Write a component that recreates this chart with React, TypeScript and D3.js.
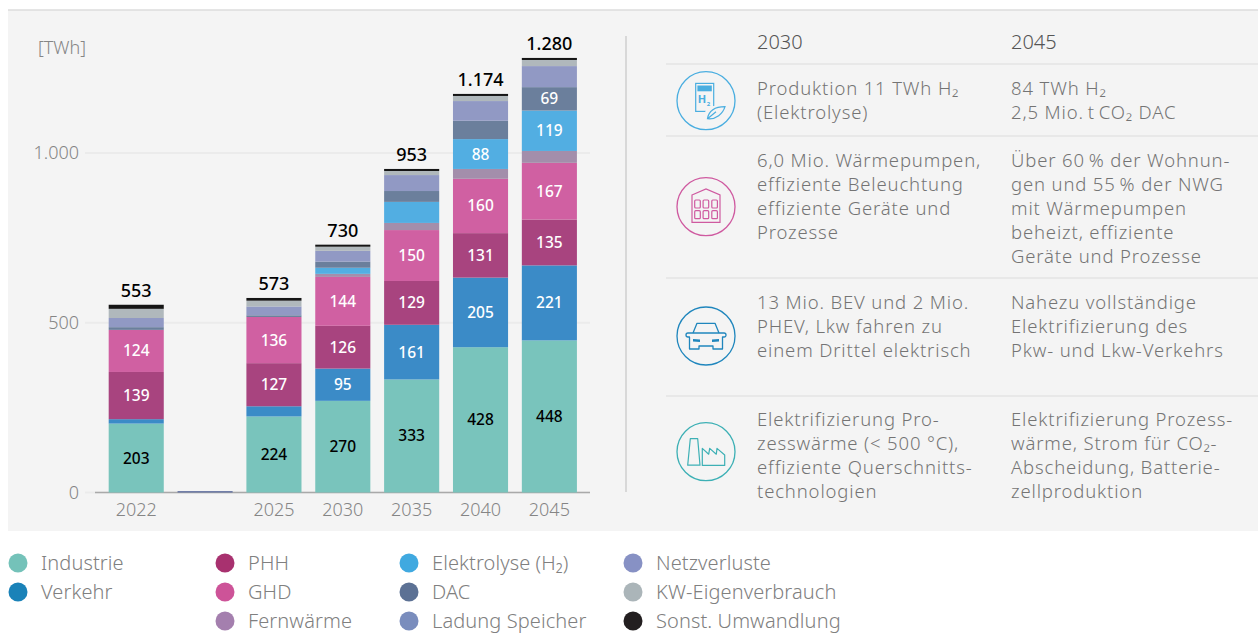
import React from 'react';
import * as d3 from 'd3';

const years = ['2022', '', '2025', '2030', '2035', '2040', '2045'];
const industrie = [203, 0, 224, 270, 333, 428, 448];
const verkehr = [13, 0, 30, 95, 161, 205, 221];
const phh = [139, 0, 127, 126, 129, 131, 135];
const ghd = [124, 0, 136, 144, 150, 160, 167];
const fernwaerme = [0, 0, 0, 9, 21, 29, 35];
const elektrolyse = [0, 0, 0, 18, 62, 88, 119];
const dac = [8, 0, 5, 18, 32, 54, 69];
const ladung = [0, 4, 0, 0, 0, 0, 0];
const netz = [27, 0, 26, 32, 47, 58, 62];
const kw = [27, 0, 17, 12, 12, 15, 18];
const sonst = [12, 0, 8, 6, 6, 6, 6];
const totals = ['553', '', '573', '730', '953', '1.174', '1.280'];

const seriesNames = ['Industrie', 'Verkehr', 'PHH', 'GHD', 'Fernwärme', 'Elektrolyse (H₂)', 'DAC', 'Ladung Speicher', 'Netzverluste', 'KW-Eigenverbrauch', 'Sonst. Umwandlung'];
const seriesValues = [industrie, verkehr, phh, ghd, fernwaerme, elektrolyse, dac, ladung, netz, kw, sonst];
const barColors = ['#79c4bc', '#3b8bc7', '#a8447f', '#d060a2', '#a38eab', '#52aee2', '#6b7f9c', '#5f6f9f', '#9199c4', '#b0b8bc', '#151515'];
const legendColors = ['#74c2b9', '#1a82b8', '#a8316f', '#cd5398', '#a47fae', '#40a9e0', '#5c7194', '#7a8dbd', '#8791c4', '#abb5b9', '#231f20'];
const legendCols = [[0, 1], [2, 3, 4], [5, 6, 7], [8, 9, 10]];
const legendX = [18, 225, 409, 633];
const legendY = [563, 592, 621];

const yTicks = [0, 500, 1000];
const header = ['2030', '2045'];
const rows = [
  { col1: ['Produktion 11 TWh H₂', '(Elektrolyse)'], col2: ['84 TWh H₂', '2,5 Mio.\u2009t\u2009CO₂ DAC'], y: 95 },
  { col1: ['6,0 Mio. Wärmepumpen,', 'effiziente Beleuchtung', 'effiziente Geräte und', 'Prozesse'], col2: ['Über 60\u2009% der Wohnun-', 'gen und 55\u2009% der NWG', 'mit Wärmepumpen', 'beheizt, effiziente', 'Geräte und Prozesse'], y: 167 },
  { col1: ['13 Mio. BEV und 2 Mio.', 'PHEV, Lkw fahren zu', 'einem Drittel elektrisch'], col2: ['Nahezu vollständige', 'Elektrifizierung des', 'Pkw- und Lkw-Verkehrs'], y: 309 },
  { col1: ['Elektrifizierung Pro-', 'zesswärme (< 500 °C),', 'effiziente Querschnitts-', 'technologien'], col2: ['Elektrifizierung Prozess-', 'wärme, Strom für CO₂-', 'Abscheidung, Batterie-', 'zellproduktion'], y: 426 },
];
const ruleY = [64, 136, 278, 396];

const FONT = '"Noto Sans", sans-serif';
const GREY = '#858585';
const TXT = '#747474';

function IconH2({ c }: { c: string }) {
  return (
    <g fill="none" stroke={c} strokeWidth={1.2}>
      <rect x={-10.3} y={-17.3} width={18} height={28} />
      <rect x={-8.6} y={-15.2} width={14.4} height={5.8} fill={c} stroke="none" />
      <text x={-4} y={2.5} fontSize={11} fontWeight={700} fill={c} stroke="none" textAnchor="middle" fontFamily={FONT}>H</text>
      <text x={2.4} y={5.5} fontSize={6} fontWeight={700} fill={c} stroke="none" textAnchor="middle" fontFamily={FONT}>2</text>
      <ellipse cx={10} cy={12} rx={11} ry={7} fill="#f4f4f4" stroke="none" />
      <path d="M1.5 18 C3 9 11 6 19 6 C17 13 10 19 1.5 18 Z M1.5 18 L10 11" />
    </g>
  );
}
function IconHouse({ c }: { c: string }) {
  const xs = [-11.3, -2.9, 5.8];
  const ys = [-6.7, 4];
  return (
    <g fill="none" stroke={c} strokeWidth={1.2}>
      <path d="M-14 -11.7 L0 -17.7 L14 -11.7 L14 15.7 L-14 15.7 Z" />
      {ys.map(y => xs.map(x => <rect key={`${x}${y}`} x={x} y={y} width={5.6} height={8} rx={1} />))}
    </g>
  );
}
function IconCar({ c }: { c: string }) {
  return (
    <g fill="none" stroke={c} strokeWidth={1.3} strokeLinejoin="round">
      <path d="M-13 -3 L-9 -12.7 L9 -12.7 L13 -3" />
      <path d="M-18 -3 L18 -3 Q20 -3 20 -1 Q20 1 18 1 L16.5 1 L16.5 13 L7 13 L7 10 L-7 10 L-7 13 L-16.5 13 L-16.5 1 L-18 1 Q-20 1 -20 -1 Q-20 -3 -18 -3 Z" />
      <path d="M-13 3 L-6 3.6 L-6 6 L-13 5.5 Z M13 3 L6 3.6 L6 6 L13 5.5 Z" fill={c} stroke="none" />
    </g>
  );
}
function IconFactory({ c }: { c: string }) {
  return (
    <g fill="none" stroke={c} strokeWidth={1.2} strokeLinejoin="round">
      <path d="M-18.3 13.5 L-15.7 -13 L-8.3 -13 L-6 13.5 Z" />
      <path d="M-3.7 13.7 L-3.7 -3.3 L2.7 2.5 L3.7 -3.3 L10.3 2.5 L11 -3.3 L18.7 3.3 L18.7 13.7 Z" />
    </g>
  );
}

export default function App() {
  const x = d3.scaleBand<string>().domain(years.map((y, i) => `${i}`)).range([101.8, 583.8]).paddingInner(0.2).paddingOuter(0.1);
  const y = d3.scaleLinear().domain([0, 1000]).range([492.5, 153]);
  const table = years.map((_, i) => {
    const row: Record<string, number> = {};
    seriesNames.forEach((n, s) => { row[n] = seriesValues[s][i]; });
    return row;
  });
  const stacked = d3.stack<Record<string, number>>().keys(seriesNames)(table);
  const icons = [
    { C: IconH2, c: '#4aaee0', cy: 100.7 },
    { C: IconHouse, c: '#cf5aa0', cy: 206.7 },
    { C: IconCar, c: '#1f86bd', cy: 336 },
    { C: IconFactory, c: '#3db0b5', cy: 451.7 },
  ];
  return (
    <svg width={1258} height={635} style={{ position: 'absolute', left: 0, top: 0, background: '#fff' }} fontFamily={FONT}>
      <rect x={8} y={10} width={1250} height={521} fill="#f4f4f4" />
      <line x1={8} x2={1258} y1={10} y2={10} stroke="#dcdcdc" strokeWidth={1.5} />
      <text x={38} y={54} fontSize={18} fontWeight={300} fill={GREY}>[TWh]</text>
      {yTicks.map(t => (
        <g key={t}>
          <line x1={85} x2={590} y1={y(t)} y2={y(t)} stroke="#ebebeb" strokeWidth={2} />
          <text x={79} y={y(t) + 6} fontSize={18} fontWeight={300} fill={GREY} textAnchor="end">{d3.format(',')(t).replace(',', '.')}</text>
        </g>
      ))}
      <line x1={95} x2={590} y1={492.5} y2={492.5} stroke="#a9a9a9" strokeWidth={1.5} />
      {stacked.map((s, si) => (
        <g key={s.key} fill={barColors[si]}>
          {s.map((d, i) => d[1] > d[0] && (
            <rect key={i} x={x(`${i}`)} width={x.bandwidth()} y={y(d[1])} height={y(d[0]) - y(d[1])} />
          ))}
        </g>
      ))}
      {stacked.map((s, si) => s.map((d, i) => d[1] - d[0] >= 65 && (
        <text key={`${si}-${i}`} x={x(`${i}`)! + x.bandwidth() / 2} y={(y(d[0]) + y(d[1])) / 2 + 5.5} fontSize={15.5} fontWeight={500}
          fill={si === 0 ? '#000' : '#fff'} textAnchor="middle">{d[1] - d[0]}</text>
      )))}
      {years.map((yr, i) => yr && (
        <g key={yr}>
          <text x={x(`${i}`)! + x.bandwidth() / 2} y={516} fontSize={18} fontWeight={300} fill={GREY} textAnchor="middle">{yr}</text>
          <text x={x(`${i}`)! + x.bandwidth() / 2} y={y(stacked[stacked.length - 1][i][1]) - 8} fontSize={18} fontWeight={500} fill="#000" textAnchor="middle">{totals[i]}</text>
        </g>
      ))}
      <line x1={626} x2={626} y1={36} y2={492} stroke="#d8d8d8" strokeWidth={2} />
      {ruleY.map(r => <line key={r} x1={666} x2={1258} y1={r} y2={r} stroke="#e8e8e8" strokeWidth={2} />)}
      <text x={757} y={49} fontSize={20} fontWeight={300} fill="#555">{header[0]}</text>
      <text x={1011} y={49} fontSize={20} fontWeight={300} fill="#555">{header[1]}</text>
      {rows.map((r, ri) => (
        <g key={ri} fontSize={18.5} fontWeight={300} fill={TXT} letterSpacing={0.85}>
          {r.col1.map((t, i) => <text key={i} x={757} y={r.y + i * 24}>{t}</text>)}
          {r.col2.map((t, i) => <text key={i} x={1011} y={r.y + i * 24}>{t}</text>)}
        </g>
      ))}
      {icons.map(({ C, c, cy }, i) => (
        <g key={i} transform={`translate(706,${cy})`}>
          <circle r={29} fill="none" stroke={c} strokeWidth={1.3} />
          <C c={c} />
        </g>
      ))}
      {legendCols.map((col, ci) => col.map((s, ri) => (
        <g key={s}>
          <circle cx={legendX[ci]} cy={legendY[ri]} r={9.5} fill={legendColors[s]} />
          <text x={legendX[ci] + 23} y={legendY[ri] + 7} fontSize={20} fontWeight={300} fill="#808080" letterSpacing={0.1}>{seriesNames[s]}</text>
        </g>
      )))}
    </svg>
  );
}
